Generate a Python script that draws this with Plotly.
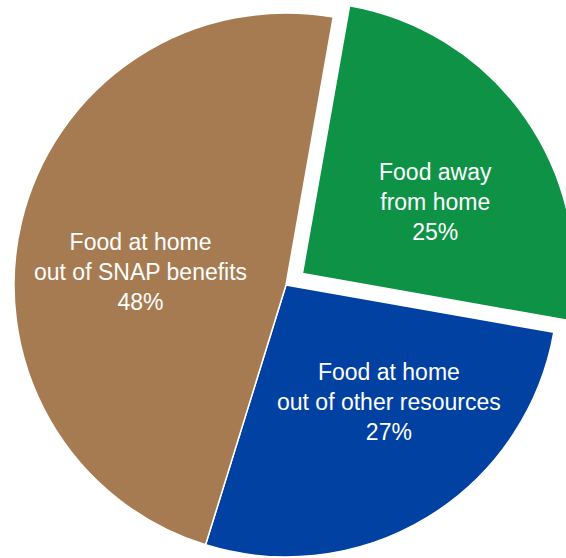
import math
import plotly.graph_objects as go

# ---- data ----
categories = ["Food away from home",
              "Food at home out of other resources",
              "Food at home out of SNAP benefits"]
label_lines = ["Food away<br>from home",
               "Food at home<br>out of other resources",
               "Food at home<br>out of SNAP benefits"]
shares = [25, 27, 48]
colors = ["#0E9346", "#0141A2", "#A67B51"]
pulled = [True, False, False]

# ---- geometry / style (pixels) ----
W, H = 580, 558
CX, CY, R = 286, 285, 272
PULL_PX = 20
ROT = 10
label_centers_px = [(435, 202), (389, 402), (140, 271.5)]
FONT = dict(family="Liberation Sans, Arial, sans-serif", size=23, color="white")

mid_angle = math.radians(ROT + 360 * shares[0] / sum(shares) / 2)
PX, PY = CX + PULL_PX * math.sin(mid_angle), CY - PULL_PX * math.cos(mid_angle)


def dom(cx, cy):
    return dict(x=[(cx - R) / W, (cx + R) / W],
                y=[(H - (cy + R)) / H, (H - (cy - R)) / H])


CLEAR = "rgba(0,0,0,0)"


def make_trace(show_mask, cx, cy):
    return go.Pie(
        labels=categories, values=shares,
        sort=False, direction="clockwise", rotation=ROT,
        marker=dict(colors=[c if s else CLEAR for c, s in zip(colors, show_mask)],
                    line=dict(color=["white" if s else CLEAR for s in show_mask], width=1.5)),
        textinfo="none",
        hoverinfo="skip", showlegend=False,
        domain=dom(cx, cy),
    )


fig = go.Figure()
fig.add_trace(make_trace([not p for p in pulled], CX, CY))
fig.add_trace(make_trace(pulled, PX, PY))

for lines, v, (lx, ly) in zip(label_lines, shares, label_centers_px):
    fig.add_annotation(text=f"{lines}<br>{v}%", x=lx / W, y=1 - ly / H,
                       xref="paper", yref="paper", xanchor="center", yanchor="middle",
                       showarrow=False, font=FONT, align="center")

fig.update_layout(width=W, height=H, autosize=False,
                  margin=dict(l=0, r=0, t=0, b=0),
                  paper_bgcolor="white", plot_bgcolor="white",
                  showlegend=False)
fig.write_html("out.html")
